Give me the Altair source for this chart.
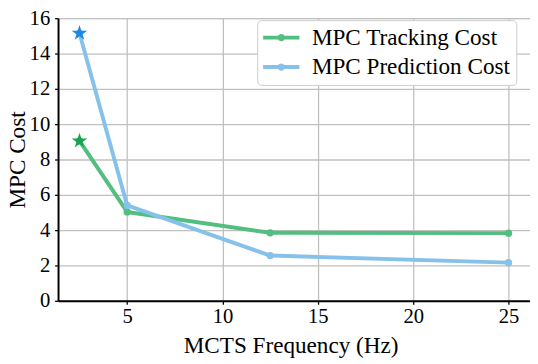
import altair as alt
import pandas as pd

# ---- data ----
freq = [2.5, 5, 12.5, 25]
tracking = [9.05, 5.03, 3.85, 3.83]
prediction = [15.15, 5.4, 2.56, 2.16]
series = ["MPC Tracking Cost", "MPC Prediction Cost"]
line_colors = ["#52be80", "#85c1e9"]
star_colors = ["#17a34f", "#1e88e5"]
x_ticks = [5, 10, 15, 20, 25]
y_ticks = [0, 2, 4, 6, 8, 10, 12, 14, 16]

pts, segs = [], []
for s, vals in zip(series, [tracking, prediction]):
    for f, v in zip(freq, vals):
        pts.append({"freq": f, "cost": v, "series": s})
    for f0, f1, v0, v1 in zip(freq[:-1], freq[1:], vals[:-1], vals[1:]):
        segs.append({"freq": f0, "freq2": f1, "cost": v0, "cost2": v1, "series": s})
pts_df = pd.DataFrame(pts)
seg_df = pd.DataFrame(segs)

FONT = "Liberation Serif"
xscale = alt.Scale(domain=[1.375, 26.125], nice=False, zero=False)
yscale = alt.Scale(domain=[0, 16], nice=False, zero=True)
series_scale = alt.Scale(domain=series, range=line_colors)

# legend symbol: thick line with a dot (size 100 -> 5 px per path unit)
legend_symbol = "M-3.7,0L3.7,0M0.34,0A0.34,0.34,0,1,1,-0.34,0A0.34,0.34,0,1,1,0.34,0Z"
# five-pointed star as a custom path
star_path = ("M0,-1L0.2245,-0.309L0.9511,-0.309L0.3633,0.118L0.5878,0.809L0,0.382"
             "L-0.5878,0.809L-0.3633,0.118L-0.9511,-0.309L-0.2245,-0.309Z")

x_axis = alt.Axis(
    values=x_ticks,
    title="MCTS Frequency (Hz)",
    titleFont=FONT,
    titleFontSize=23.6,
    titleFontWeight="normal",
    titleColor="black",
    titleX=237,
    titleY=53,
    titleBaseline="alphabetic",
    labelFont=FONT,
    labelFontSize=21,
    labelColor="black",
    labelPadding=2,
    labelOverlap=False,
    tickColor="black",
    tickSize=3.5,
    tickWidth=1.3,
    domainColor="black",
    domainWidth=2,
    gridColor="#c0c0c0",
    gridWidth=1.3,
)

y_axis = alt.Axis(
    values=y_ticks,
    title="MPC Cost",
    titleFont=FONT,
    titleFontSize=23.6,
    titleFontWeight="normal",
    titleColor="black",
    titleX=-41,
    titleY=144,
    titleBaseline="middle",
    labelFont=FONT,
    labelFontSize=21,
    labelColor="black",
    labelPadding=5,
    labelOverlap=False,
    tickColor="black",
    tickSize=3.5,
    tickWidth=1.3,
    domainColor="black",
    domainWidth=2,
    gridColor="#c0c0c0",
    gridWidth=1.3,
)


def X():
    return alt.X("freq:Q", scale=xscale, axis=x_axis)


def Y():
    return alt.Y("cost:Q", scale=yscale, axis=y_axis)


lines = alt.Chart(seg_df).mark_rule(strokeWidth=4, strokeCap="round").encode(
    x=X(),
    x2="freq2:Q",
    y=Y(),
    y2="cost2:Q",
    color=alt.Color(
        "series:N",
        scale=series_scale,
        legend=alt.Legend(
            title=None,
            orient="none",
            legendX=203,
            legendY=2,
            symbolType=legend_symbol,
            symbolSize=100,
            symbolStrokeWidth=4,
            symbolOffset=6.7,
            labelFont=FONT,
            labelFontSize=23.6,
            labelColor="black",
            labelOffset=19.4,
            labelLimit=400,
            padding=6,
            rowPadding=5,
            cornerRadius=4,
            strokeColor="#cccccc",
            fillColor="white",
        ),
    ),
)

points = alt.Chart(pts_df).mark_point(filled=True, shape="circle", size=55, opacity=1).encode(
    x=X(),
    y=Y(),
    color=alt.Color("series:N", scale=series_scale, legend=None),
)

star_track = alt.Chart(pd.DataFrame({"freq": [freq[0]], "cost": [tracking[0]]})).mark_point(
    filled=True, shape=star_path, size=280, opacity=1, color=star_colors[0]
).encode(x=X(), y=Y())

star_pred = alt.Chart(pd.DataFrame({"freq": [freq[0]], "cost": [prediction[0]]})).mark_point(
    filled=True, shape=star_path, size=280, opacity=1, color=star_colors[1]
).encode(x=X(), y=Y())

chart = (
    alt.layer(lines, points, star_track, star_pred)
    .properties(
        width=481,
        height=288,
        autosize=alt.AutoSizeParams(type="none"),
        padding={"left": 51, "top": 7, "right": 0, "bottom": 60},
    )
    .configure_view(stroke="black", strokeWidth=2)
    .configure_axis(labelFont=FONT, titleFont=FONT, labelFontSize=21, labelColor="black")
    .configure_legend(labelFont=FONT, labelLimit=400)
    .configure(font=FONT)
)

chart.save("out.html", embed_options={"renderer": "svg", "actions": False})
